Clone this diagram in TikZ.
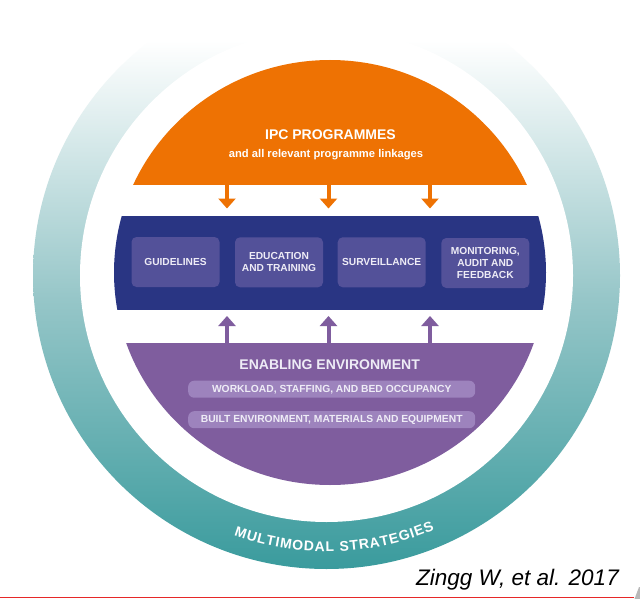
\documentclass[tikz,border=0pt]{standalone}
\usepackage{fontspec}
\setmainfont{Liberation Sans}
\usetikzlibrary{arrows.meta,decorations.text}
\definecolor{ipcorange}{RGB}{238,114,3}
\definecolor{ipcnavy}{RGB}{41,53,131}
\definecolor{boxblue}{RGB}{83,81,153}
\definecolor{ipcpurple}{RGB}{127,93,158}
\definecolor{pillpurple}{RGB}{157,131,189}
\definecolor{ringteal}{RGB}{58,155,157}
\definecolor{ringmid}{RGB}{150,198,200}
\definecolor{offwhite}{RGB}{238,236,246}
\definecolor{citered}{RGB}{230,40,40}
\pgfdeclareverticalshading{ringshade}{100bp}{color(0bp)=(ringteal); color(25bp)=(ringteal); color(48bp)=(ringmid); color(70bp)=(white); color(100bp)=(white)}
\begin{document}
\begin{tikzpicture}[x=1pt,y=1pt,
  hdr/.style={text=white,font=\fontsize{14}{16}\selectfont\bfseries,anchor=base,inner sep=0},
  sub/.style={text=white,font=\fontsize{11.2}{13}\selectfont\bfseries,anchor=base,inner sep=0},
  pbox/.style={fill=boxblue,rounded corners=5pt,minimum width=88pt,minimum height=50pt,inner sep=0,
    text=offwhite,align=center,font=\fontsize{10.2}{11.7}\selectfont\bfseries},
  pill/.style={fill=pillpurple,rounded corners=6pt,minimum width=287pt,minimum height=17pt,inner sep=0,
    text=offwhite,font=\fontsize{10.3}{12}\selectfont\bfseries},
  orangearrow/.style={draw=ipcorange,line width=4pt,-{Triangle[width=17pt,length=10pt]}},
  purplearrow/.style={draw=ipcpurple,line width=4pt,-{Triangle[width=17pt,length=10pt]}}
]
\useasboundingbox (0,0) rectangle (640,-599);
\fill[white] (0,0) rectangle (640,-599);
% outer ring
\coordinate (rc) at (326.5,-275.5);
\shade[shading=ringshade] (rc) circle[radius=293.5];
\fill[white] (rc) circle[radius=246.5];
\path[decorate,decoration={text along path,
   text={|\color{white}\fontsize{14}{14}\selectfont\bfseries|MULTIMODAL STRATEGIES},
   text align=fit to path}]
   ([shift={(250.4:276)}]rc) arc[start angle=250.4,end angle=293,radius=276];
% inner disc parts
\coordinate (ic) at (330,-272.5);
\begin{scope}
  \clip (ic) ellipse[x radius=216,y radius=212.5];
  \fill[ipcorange] (100,-40) rectangle (560,-185);
  \fill[ipcnavy] (100,-216) rectangle (560,-310);
  \fill[ipcpurple] (100,-343) rectangle (560,-500);
\end{scope}
% arrows
\foreach \x [count=\i] in {227,328.5,430}{
  \coordinate (os\i) at (\x,-185);
  \coordinate (oe\i) at (\x,-208.5);
  \draw[orangearrow] (os\i) -- (oe\i);
  \coordinate (ps\i) at (\x,-344);
  \coordinate (pe\i) at (\x,-316);
  \draw[purplearrow] (ps\i) -- (pe\i);
}
% texts
\node[hdr] (ipc) at (330.5,-140) {IPC PROGRAMMES};
\node[sub] (ipcsub) at (326,-157.5) {and all relevant programme linkages};
\node[pbox] (b1) at (175.5,-262) {GUIDELINES};
\node[pbox] (b2) at (279,-262.3) {EDUCATION\\AND TRAINING};
\node[pbox] (b3) at (381.7,-262.3) {SURVEILLANCE};
\node[pbox] (b4) at (485.3,-263) {MONITORING,\\AUDIT AND\\FEEDBACK};
\node[hdr,text=offwhite] (env) at (329.7,-369.3) {ENABLING ENVIRONMENT};
\node[pill] (p1) at (331.7,-389.2) {WORKLOAD, STAFFING, AND BED OCCUPANCY};
\node[pill] (p2) at (331.7,-419.7) {BUILT ENVIRONMENT, MATERIALS AND EQUIPMENT};
% citation
\node[anchor=base,inner sep=0,font=\fontsize{22.5}{26}\selectfont\itshape] (cite) at (517.5,-585) {Zingg W, et al. 2017};
\coordinate (rl1) at (0,-597.3);
\coordinate (rl2) at (634,-597.3);
\draw[citered,line width=1.6pt] (rl1) -- (rl2);
\fill[gray!55] (634.5,-599) -- (639,-587) -- (640,-587) -- (640,-599) -- cycle;
\end{tikzpicture}
\end{document}
